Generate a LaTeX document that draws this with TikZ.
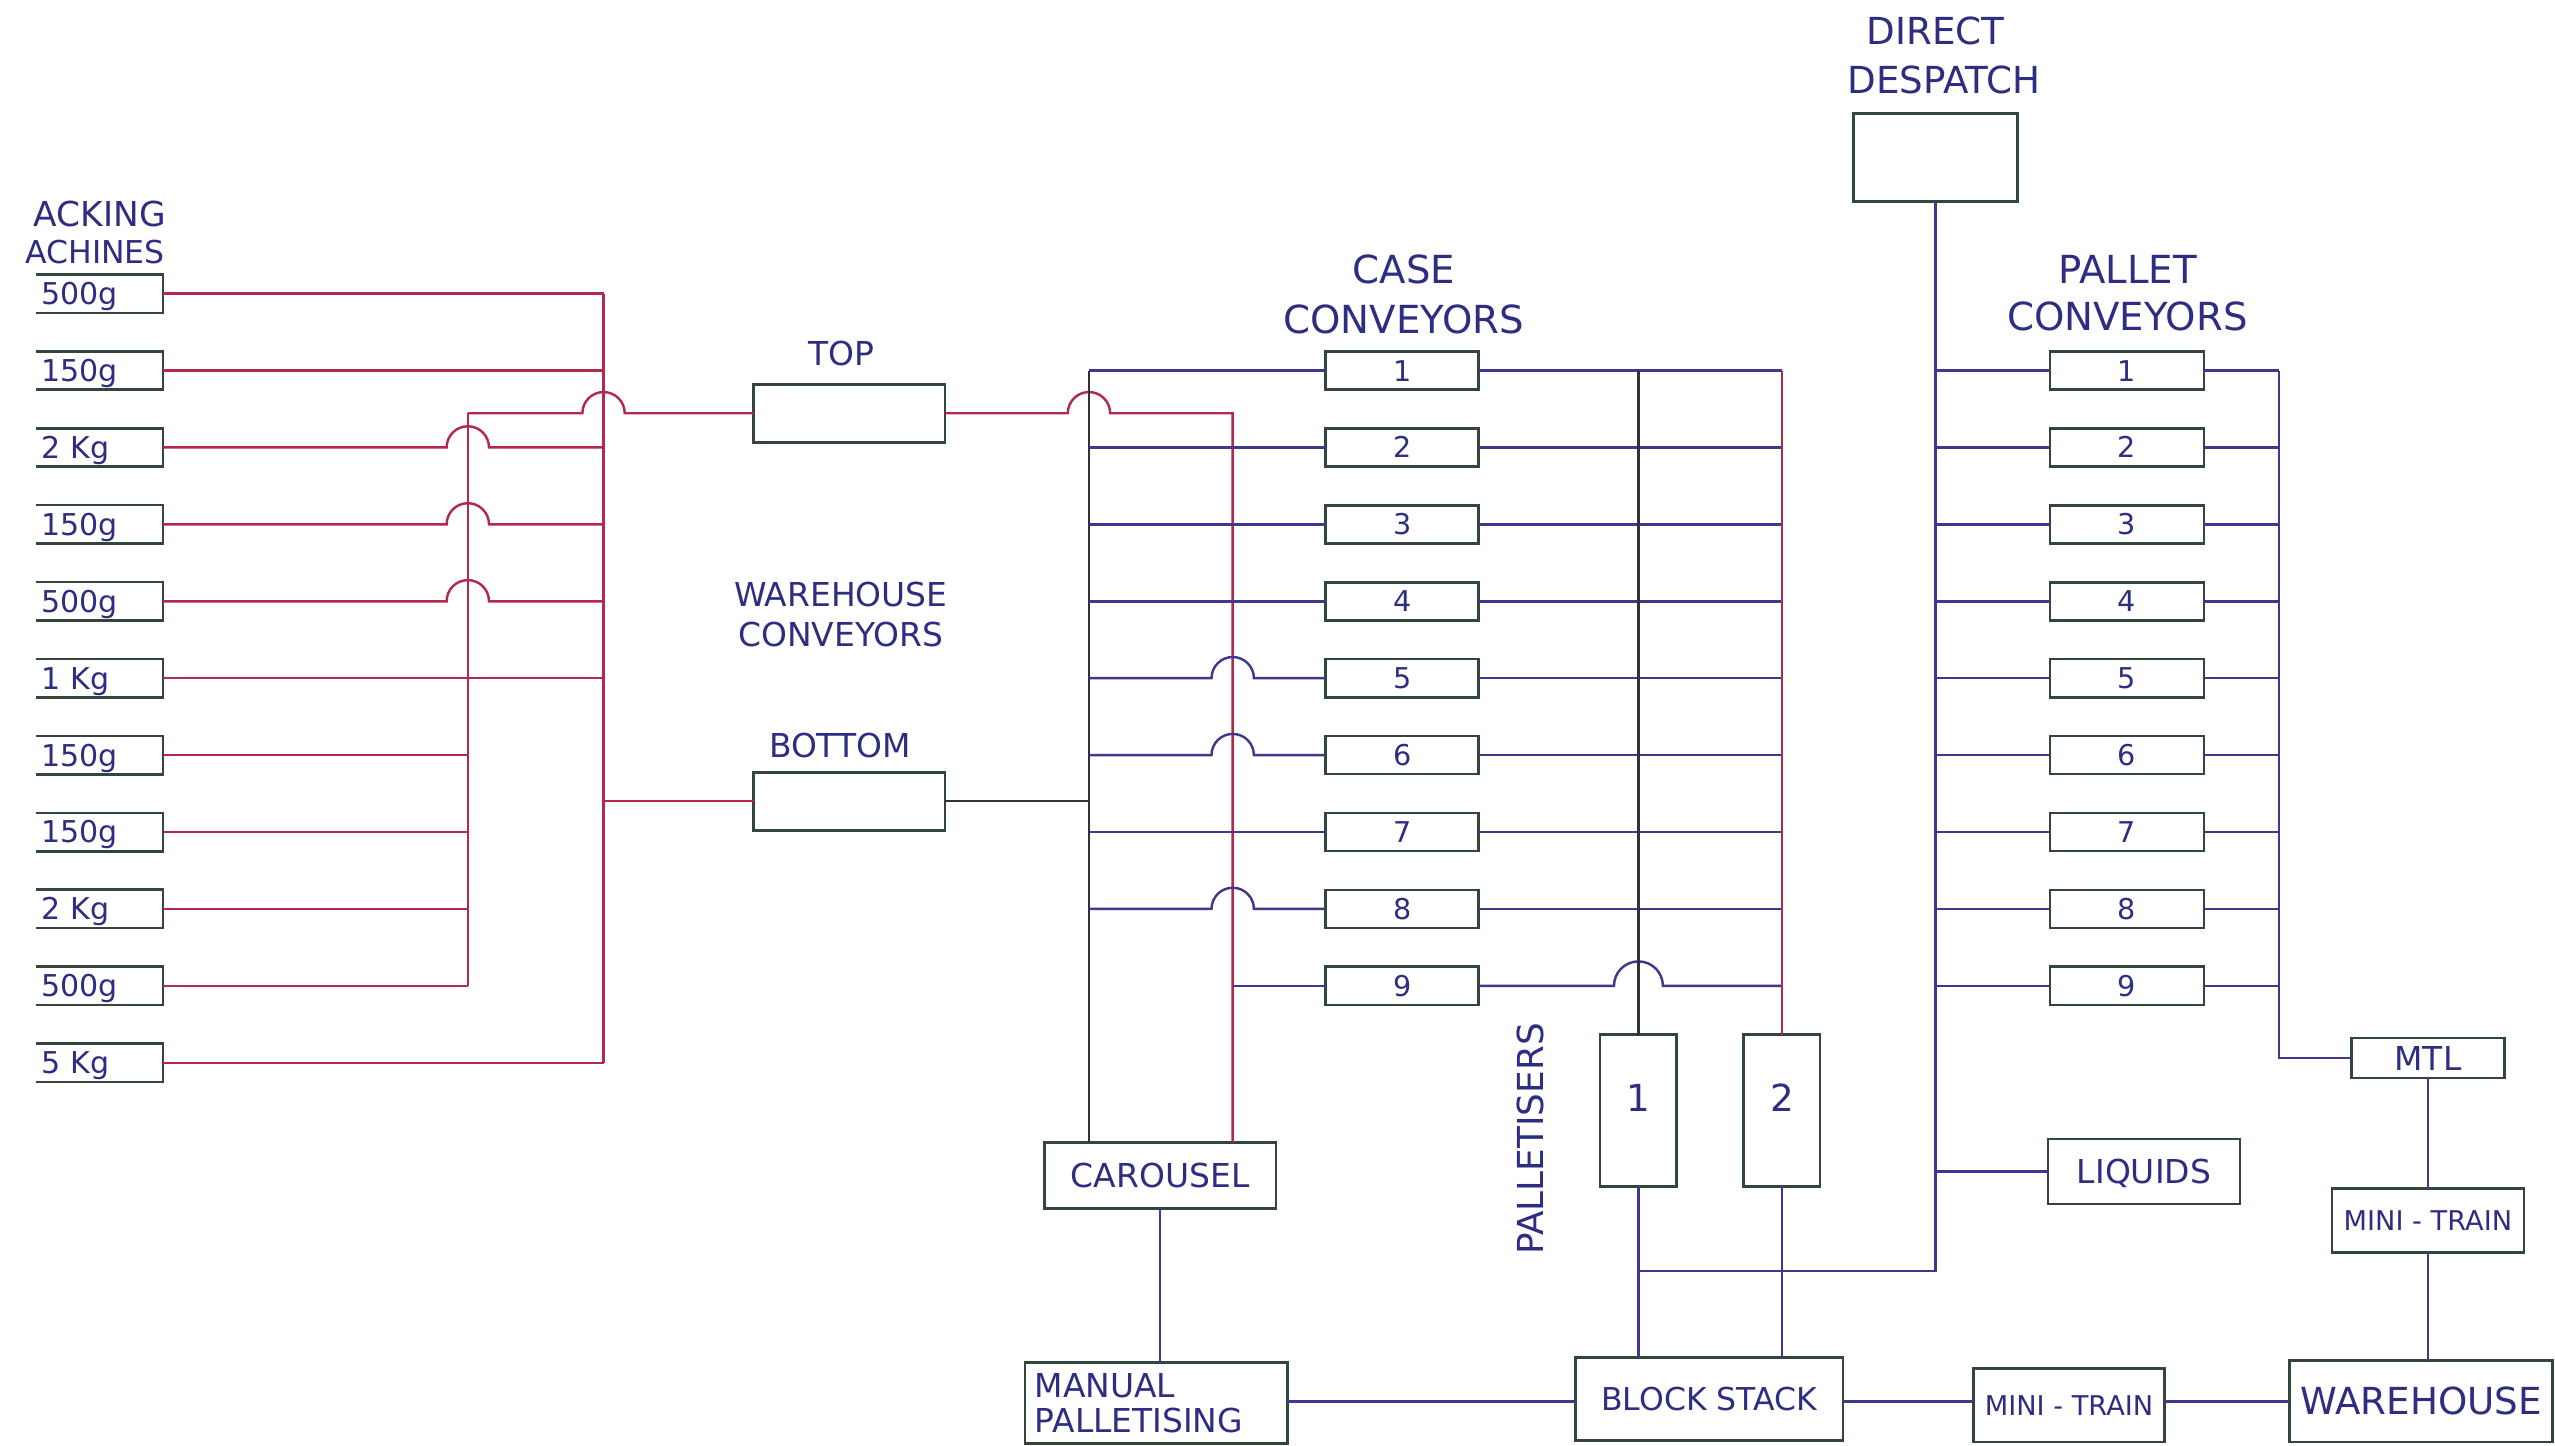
\documentclass[tikz,border=0pt]{standalone}
\usepackage{fontspec}
\setmainfont{DejaVu Sans}
\definecolor{redl}{RGB}{180,40,75}
\definecolor{bluel}{RGB}{65,55,140}
\definecolor{blackl}{RGB}{50,50,50}
\definecolor{boxc}{RGB}{50,70,60}
\definecolor{txt}{RGB}{45,45,130}
\newcommand{\hop}[3]{-- ({#1-#3},#2) .. controls ({#1-#3},{#2-0.5523*#3}) and ({#1-0.5523*#3},{#2-#3}) .. (#1,{#2-#3}) .. controls ({#1+0.5523*#3},{#2-#3}) and ({#1+#3},{#2-0.5523*#3}) .. ({#1+#3},#2)}
\newcommand{\fs}[1]{\fontsize{#1}{#1}\selectfont}
\newcommand{\cbox}[7][]{\node[bx,minimum width={(#5)*0.2mm},minimum height={(#6)*0.2mm},#1] (#2) at (#3,#4) {#7};}
\begin{document}
\begin{tikzpicture}[x=0.2mm,y=-0.2mm,
  rl/.style={draw=redl,line width=0.85pt},
  bl/.style={draw=bluel,line width=0.85pt},
  kl/.style={draw=blackl,line width=0.85pt},
  bx/.style={draw=boxc,line width=0.9pt,inner sep=0pt,outer sep=0pt,rectangle},
  tx/.style 2 args={font=\fs{#1},text=txt,text height=#2,text depth=0pt},
  lab/.style={text=txt,inner sep=0pt,anchor=base},
  line join=miter]
\useasboundingbox[fill=white] (0,0) rectangle (1568,887);

% ---------- coordinates of bus lines ----------
\coordinate (Atop) at (370.4,180.2);
\coordinate (Abot) at (370.4,652.2);
\coordinate (Abt)  at (370.4,491.7);
\coordinate (Btop) at (287.1,253.6);
\coordinate (Bbot) at (287.1,605);
\coordinate (Dtop) at (668.3,227.4);
\coordinate (Ctop) at (756.5,253.6);
\coordinate (Ftop) at (1005.5,227.4);
\coordinate (Etop) at (1093.5,227.4);
\coordinate (Fj)   at (1005.5,780);
\coordinate (Gj)   at (1187.75,780);
\coordinate (Htop) at (1398.6,227.4);
\coordinate (ybot) at (0,860);

% ---------- packing machines ----------
\node[lab,anchor=base east,font=\fs{12}] (lPm1) at (102,139) {ACKING};
\node[lab,anchor=base east,font=\fs{11}] (lPm2) at (101.5,161.6) {ACHINES};
\foreach \k/\lbl in {0/500g,1/150g,2/2 Kg,3/150g,4/500g,5/1 Kg,6/150g,7/150g,8/2 Kg,9/500g,10/5 Kg}{
  \pgfmathsetmacro\yy{180.2+47.2*\k}
  \node[bx,draw=none,minimum width=15.6mm,minimum height=4.72mm,text width=14.2mm,align=left,inner xsep=0.7mm,tx={10.5}{7.65pt}] (pk\k) at (61,\yy) {\lbl};
  \draw[draw=boxc,line width=0.9pt] (pk\k.north west) -- (pk\k.north east) -- (pk\k.south east) -- (pk\k.south west);
}

% ---------- warehouse conveyors ----------
\node[lab,font=\fs{11.5}] (lTop) at (516.5,224) {TOP};
\cbox{TOP}{521.25}{253.6}{117.5}{35.6}{}
\node[lab,font=\fs{11.5}] (lWh1) at (516,372) {WAREHOUSE};
\node[lab,font=\fs{11.5}] (lWh2) at (516,396.7) {CONVEYORS};
\node[lab,font=\fs{11.5}] (lBot) at (515.5,464.7) {BOTTOM};
\cbox{BOT}{521.25}{491.7}{117.5}{35.6}{}

% ---------- case conveyors ----------
\node[lab,font=\fs{13.5}] (lCc1) at (861.5,173.9) {CASE};
\node[lab,font=\fs{13.5}] (lCc2) at (861.5,204.6) {CONVEYORS};
\foreach \k in {1,...,9}{
  \pgfmathsetmacro\yy{180.2+47.2*\k}
  \cbox[tx={10}{7.3pt}]{cc\k}{860.5}{\yy}{94}{23.4}{\k}
}

% ---------- carousel / manual ----------
\cbox[tx={11.5}{8.4pt}]{CAR}{712}{721.25}{142}{40.5}{CAROUSEL}
\cbox[align=left,text width=29.8mm,font=\fontsize{11.5}{12.2}\selectfont,text=txt]{MAN}{709.5}{861}{161}{50}{MANUAL\\PALLETISING}

% ---------- palletisers ----------
\node[lab,rotate=90,font=\fs{12.5}] (lPal) at (947.4,699) {PALLETISERS};
\cbox[tx={13}{9.5pt},text depth=9pt]{P1}{1005.5}{681.5}{47}{93}{1}
\cbox[tx={13}{9.5pt},text depth=9pt]{P2}{1093.5}{681.5}{47}{93}{2}
\cbox[tx={11}{8pt}]{BS}{1049}{858.5}{164}{51}{BLOCK STACK}

% ---------- direct despatch ----------
\node[lab,font=\fs{13}] (lDd1) at (1188,27.6) {DIRECT};
\node[lab,font=\fs{13}] (lDd2) at (1193,57.3) {DESPATCH};
\cbox{DD}{1187.75}{96.65}{100.5}{54.3}{}

% ---------- pallet conveyors ----------
\node[lab,font=\fs{13.5}] (lPc1) at (1305.6,173.9) {PALLET};
\node[lab,font=\fs{13.5}] (lPc2) at (1305.6,202.9) {CONVEYORS};
\foreach \k in {1,...,9}{
  \pgfmathsetmacro\yy{180.2+47.2*\k}
  \cbox[tx={10}{7.3pt}]{pc\k}{1305.3}{\yy}{94.6}{23.4}{\k}
}
\cbox[tx={11.5}{8.4pt}]{LIQ}{1315.75}{719}{118}{40}{LIQUIDS}
\cbox[tx={11.5}{8.4pt}]{MTL}{1490}{649.3}{94}{24.6}{MTL}
\cbox[tx={9.5}{6.9pt}]{MT2}{1490}{749.1}{118}{39.4}{MINI - TRAIN}
\cbox[tx={9.5}{6.9pt}]{MT1}{1269.75}{862.5}{117.5}{45}{MINI - TRAIN}
\cbox[tx={13}{9.5pt}]{WH}{1485.75}{860}{161.5}{50}{WAREHOUSE}

% ================= connectors =================
% packing machine feeders
\draw[rl] (Atop) -- (Abot);
\draw[rl] (Btop) -- (Bbot);
\foreach \k in {0,1,5,10}{\draw[rl] (pk\k.east) -- (pk\k.east -| Atop);}
\foreach \k in {2,3,4}{
  \pgfmathsetmacro\yy{180.2+47.2*\k}
  \draw[rl] (pk\k.east) \hop{287.1}{\yy}{13} -- (pk\k.east -| Atop);}
\foreach \k in {6,7,8,9}{\draw[rl] (pk\k.east) -- (pk\k.east -| Btop);}
\draw[rl] (Btop) \hop{370.4}{253.6}{13} -- (TOP.west);
\draw[rl] (Abt) -- (BOT.west);

% warehouse conveyors to case conveyors
\draw[rl] (TOP.east) \hop{668.3}{253.6}{13} -- (Ctop) -- (Ctop |- CAR.north);
\draw[kl] (BOT.east) -- (BOT.east -| Dtop);
\draw[kl] (Dtop) -- (Dtop |- CAR.north);
\foreach \k in {1,2,3,4,7}{\draw[bl] (Dtop |- cc\k.west) -- (cc\k.west);}
\foreach \k in {5,6,8}{
  \pgfmathsetmacro\yy{180.2+47.2*\k}
  \draw[bl] (Dtop |- cc\k.west) \hop{756.5}{\yy}{13} -- (cc\k.west);}
\draw[bl] (Ctop |- cc9.west) -- (cc9.west);

% case conveyors to palletisers
\foreach \k in {1,...,8}{\draw[bl] (cc\k.east) -- (cc\k.east -| Etop);}
\draw[bl] (cc9.east) \hop{1005.5}{605}{15} -- (cc9.east -| Etop);
\draw[kl] (Ftop) -- (Ftop |- P1.north);
\draw[rl] (Etop) -- (Etop |- P2.north);
\draw[bl] (P1.south) -- (P1.south |- BS.north);
\draw[bl] (P2.south) -- (P2.south |- BS.north);
\draw[bl] (Fj) -- (Gj) -- (DD.south);

% pallet conveyors
\foreach \k in {1,...,9}{
  \draw[bl] (DD.south |- pc\k.west) -- (pc\k.west);
  \draw[bl] (pc\k.east) -- (pc\k.east -| Htop);}
\draw[bl] (Htop) -- (Htop |- MTL.west) -- (MTL.west);
\draw[bl] (DD.south |- LIQ.west) -- (LIQ.west);
\draw[bl] (MTL.south) -- (MT2.north);
\draw[bl] (MT2.south) -- (MT2.south |- WH.north);

% bottom row
\draw[bl] (CAR.south) -- (CAR.south |- MAN.north);
\draw[bl] (MAN.east |- ybot) -- (BS.west |- ybot);
\draw[bl] (BS.east |- ybot) -- (MT1.west |- ybot);
\draw[bl] (MT1.east |- ybot) -- (WH.west |- ybot);
\end{tikzpicture}
\end{document}
